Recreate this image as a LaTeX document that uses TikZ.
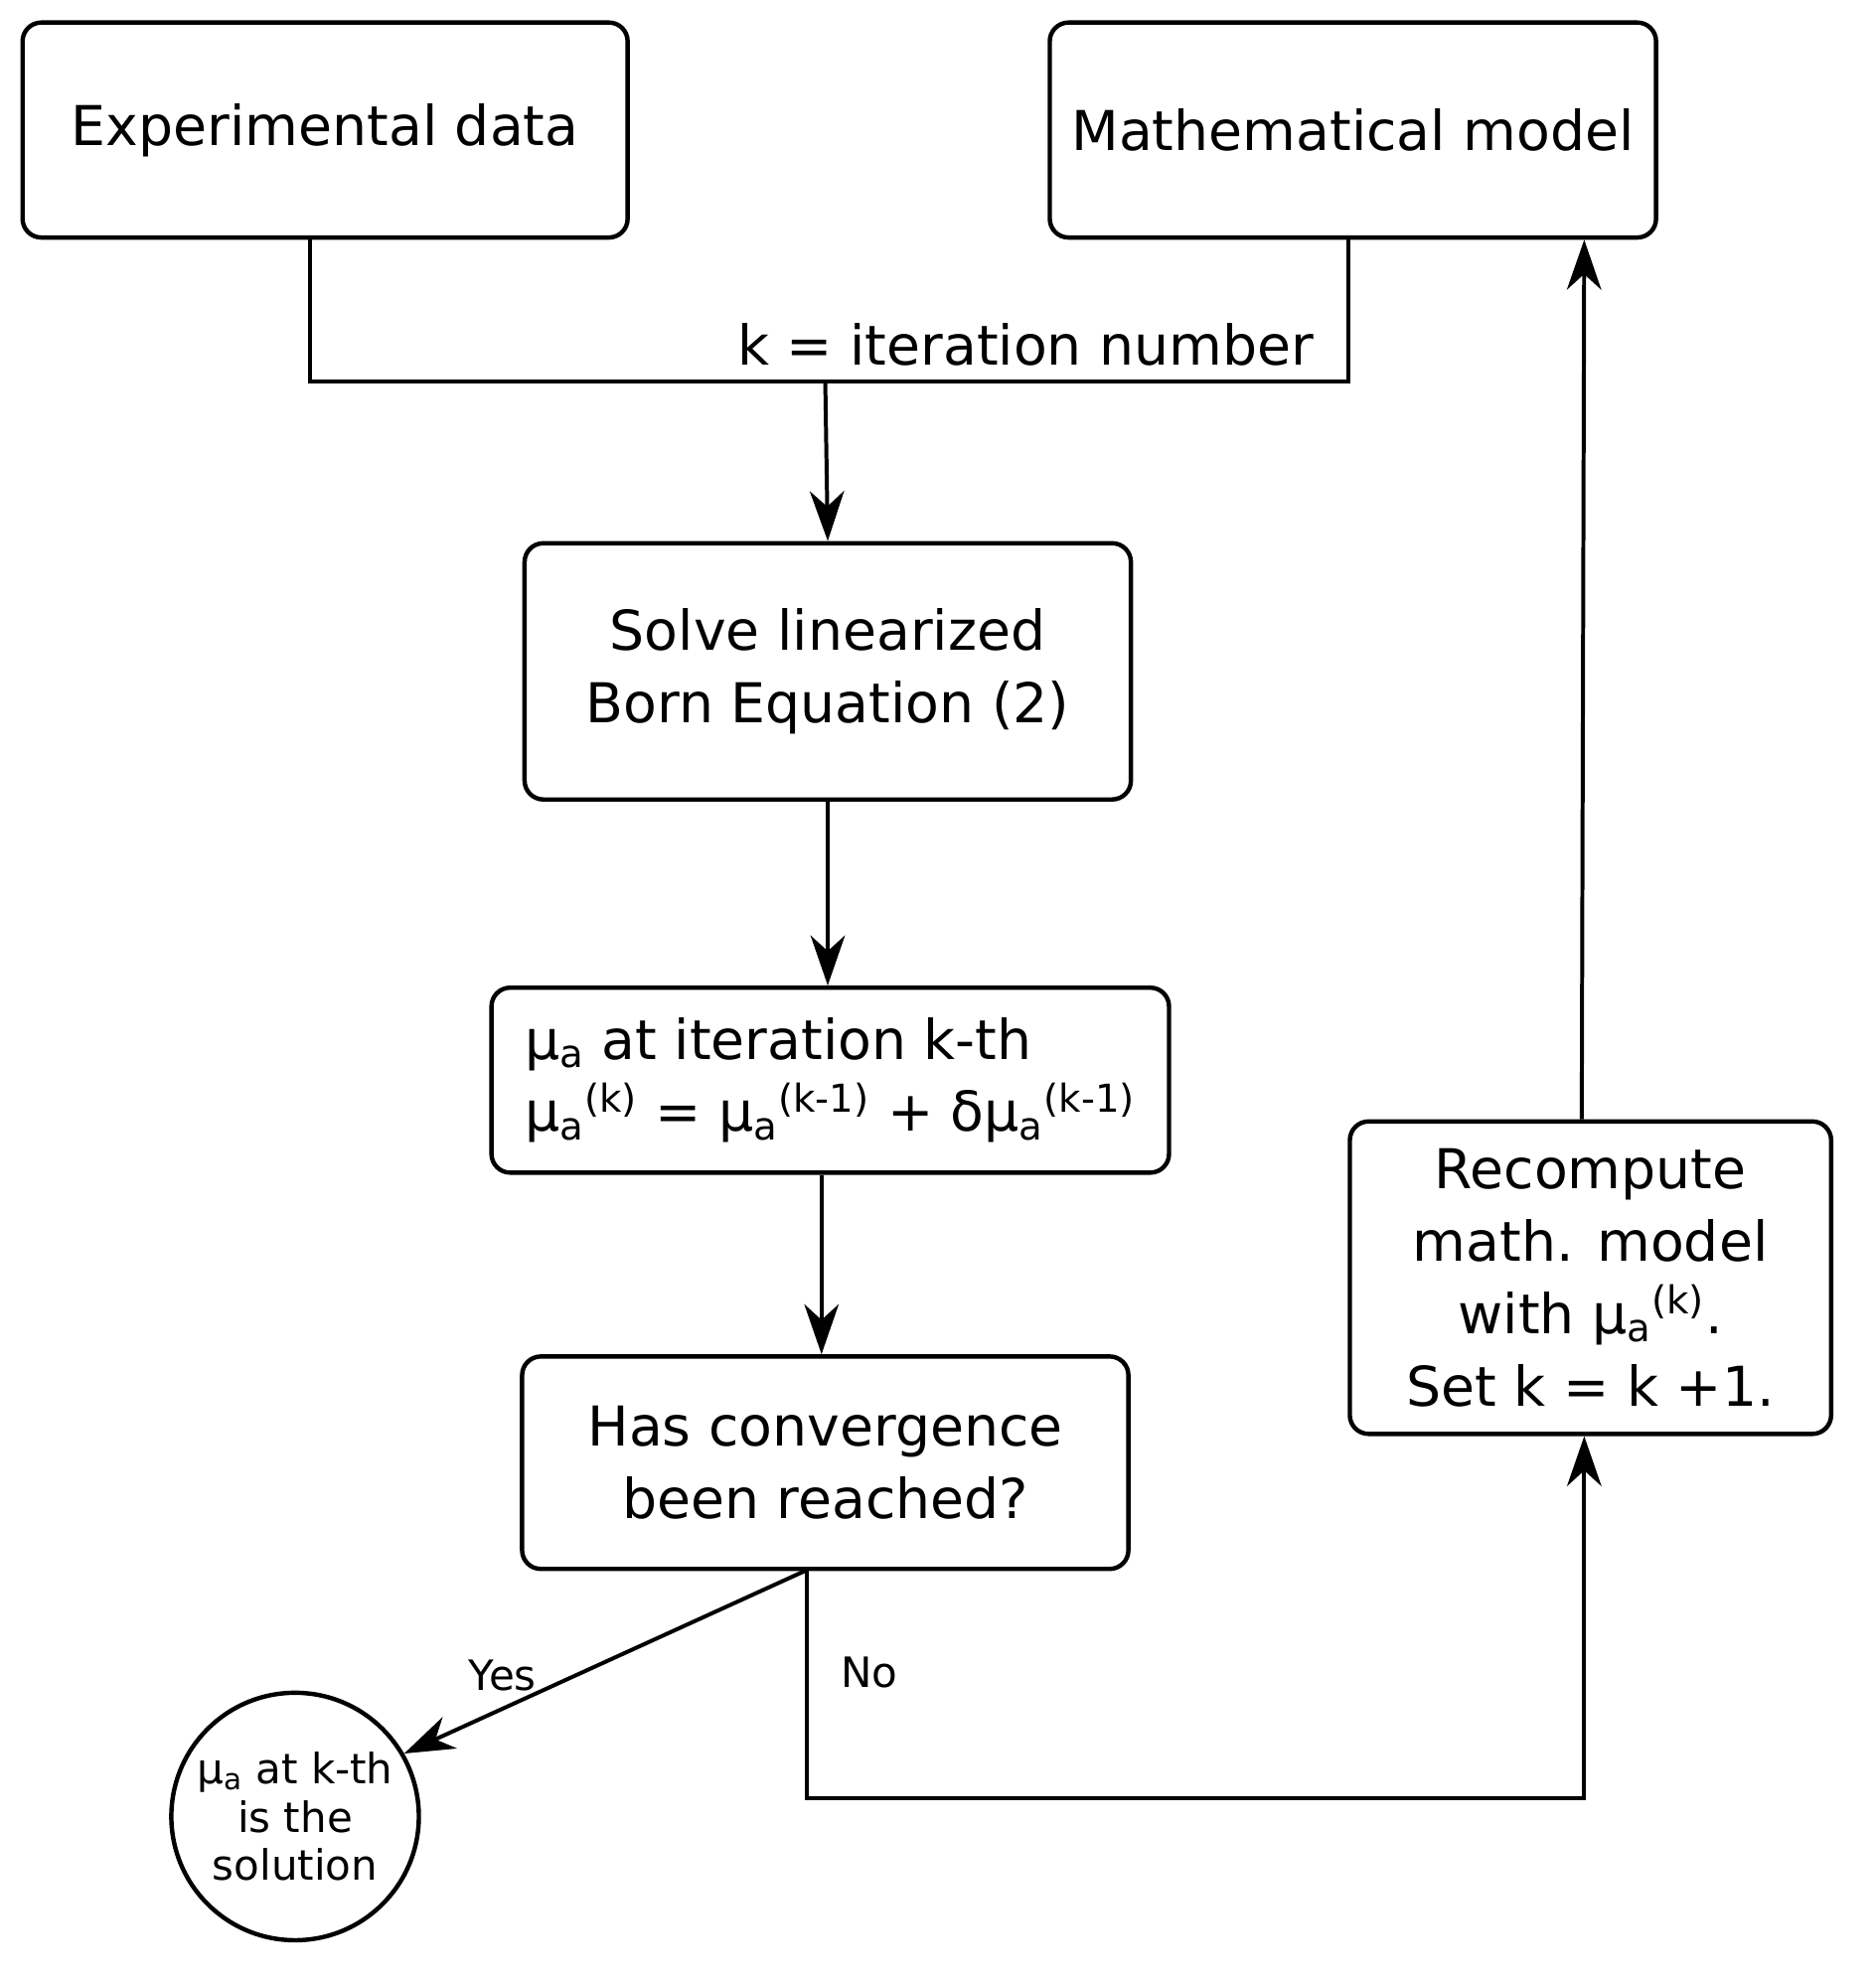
\documentclass[tikz,border=0pt]{standalone}
\usepackage{fontspec}
\setmainfont{DejaVu Sans}
\usetikzlibrary{arrows.meta}
\begin{document}
\begin{tikzpicture}[x=0.02cm,y=-0.02cm,
  box/.style={draw,line width=2pt,rounded corners=0.3cm,align=center,font=\fontsize{25}{33}\selectfont,inner sep=0pt},
  ln/.style={line width=1.8pt},
  arr/.style={ln,-{Stealth[length=0.8cm,width=0.55cm,inset=0.25cm]}},
  lbl/.style={font=\fontsize{19}{22}\selectfont}]
\useasboundingbox (0,0) rectangle (1500,1583);
\node[box,minimum width=9.68cm,minimum height=3.44cm] (exp) at (260,104) {Experimental data};
\node[box,minimum width=9.7cm,minimum height=3.44cm] (math) at (1082,104) {Mathematical model};
\node[box,minimum width=9.7cm,minimum height=4.1cm] (solve) at (662,537) {Solve linearized\\Born Equation (2)};
\node[box,minimum width=10.84cm,minimum height=2.96cm,align=left] (mu) at (664,864) {μ\textsubscript{a} at iteration k-th\\μ\textsubscript{a}\textsuperscript{(k)} = μ\textsubscript{a}\textsuperscript{(k-1)} + δμ\textsubscript{a}\textsuperscript{(k-1)}};
\node[box,minimum width=9.7cm,minimum height=3.4cm] (conv) at (660,1170) {Has convergence\\been reached?};
\node[box,minimum width=7.7cm,minimum height=5cm] (rec) at (1272,1022) {Recompute\\math. model\\with μ\textsubscript{a}\textsuperscript{(k)}.\\Set k = k +1.};
\node[draw,circle,line width=2pt,minimum size=3.96cm,align=center,inner sep=0pt,font=\fontsize{19}{22}\selectfont] (sol) at (236,1453) {μ\textsubscript{a} at k-th\\is the\\solution};
\coordinate (j1) at (660,305);
\draw[ln] (248,190) |- (j1) -| (1078,190);
\node[font=\fontsize{25}{30}\selectfont,anchor=base east] (klbl) at (1057,292) {k = iteration number};
\draw[arr] (j1) -- (solve.north);
\draw[arr] (solve.south) -- (mu.north -| solve.south);
\draw[arr] (mu.south -| 657,0) -- (conv.north -| 657,0);
\coordinate (c0) at (645,1256);
\draw[arr] (c0) -- (sol.30);
\node[lbl] (yes) at (402,1340) {Yes};
\draw[arr] (c0) -- (645,1438) -| (rec.south -| 1267,0);
\node[lbl] (no) at (695,1338) {No};
\draw[arr] (rec.north -| 1265,0) -- (math.south -| 1267,0);
\end{tikzpicture}
\end{document}
